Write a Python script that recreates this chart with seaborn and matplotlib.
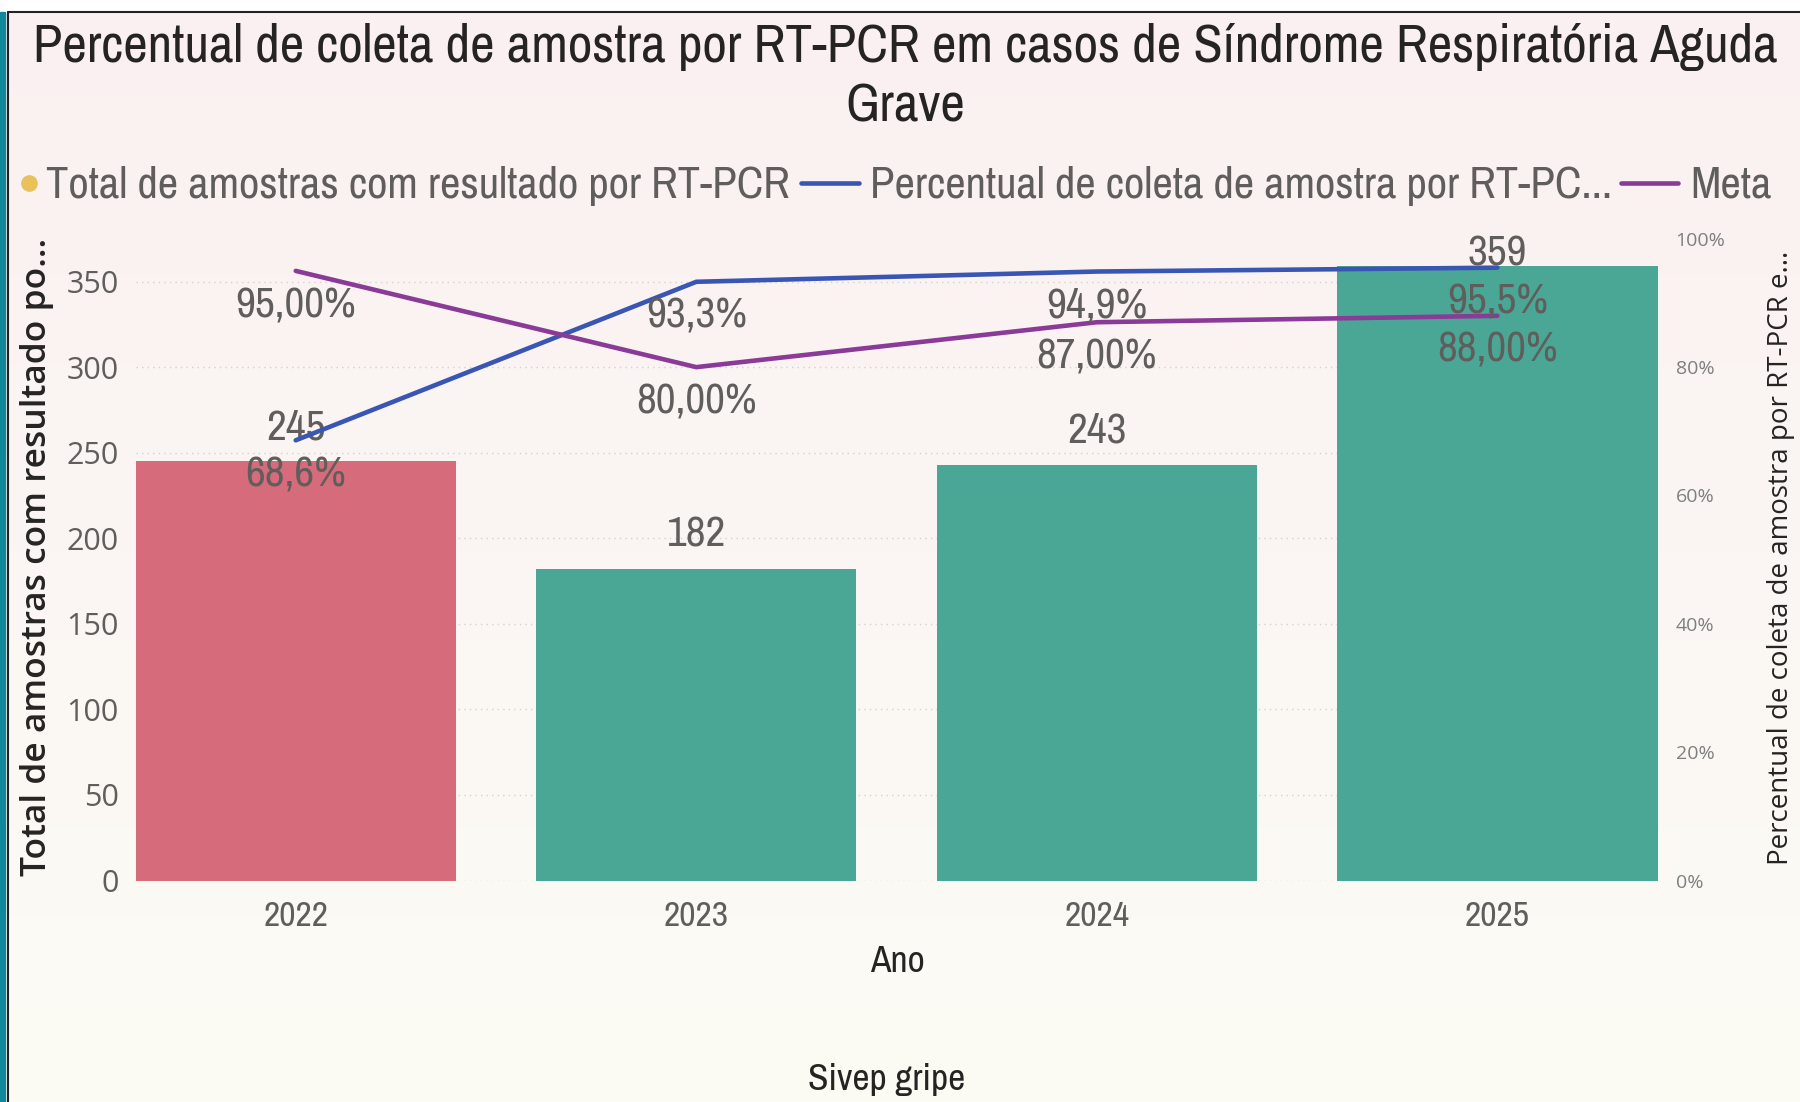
import os
import numpy as np
import pandas as pd
import matplotlib
matplotlib.use("Agg")
import matplotlib.pyplot as plt
import seaborn as sns
from matplotlib import font_manager
from matplotlib.font_manager import FontProperties
from matplotlib.colors import to_rgb
from matplotlib.lines import Line2D
from matplotlib.patches import Rectangle

# ===================== DATA =====================
years = ["2022", "2023", "2024", "2025"]
totals = [245, 182, 243, 359]
pct_coleta = [0.686, 0.933, 0.949, 0.955]
meta = [0.95, 0.80, 0.87, 0.88]
bar_colors = ["#d66b7c", "#4aa795", "#4aa795", "#4aa795"]

title_lines = ["Percentual de coleta de amostra por RT-PCR em casos de Síndrome Respiratória Aguda",
               "Grave"]
legend_labels = ["Total de amostras com resultado por RT-PCR",
                 "Percentual de coleta de amostra por RT-PC...",
                 "Meta"]
left_label = "Total de amostras com resultado po..."
right_label = "Percentual de coleta de amostra por RT-PCR e..."

# ===================== FONTS =====================
sns.set_style("white")
names = {f.name for f in font_manager.fontManager.ttflist}
SEGOE = "Open Sans" if "Open Sans" in names else "DejaVu Sans"
plt.rcParams["font.family"] = [SEGOE, "DejaVu Sans"]

# look for a narrow regular face (Power BI uses a condensed DIN-like font)
BAD = ("bold", "italic", "oblique", "light", "medium", "black", "thin", "semibold", "heavy", "book")
best, best_score = None, 99
for f in font_manager.fontManager.ttflist:
    fn = os.path.basename(f.fname).lower().replace("_", "").replace("-", "")
    if any(b in fn for b in BAD):
        continue
    if "narrow" in fn:
        score = 0
    elif "extracondensed" in fn or "ultracondensed" in fn:
        score = 3
    elif "semicondensed" in fn:
        score = 2
    elif "condensed" in fn:
        score = 1
    else:
        continue
    if score < best_score:
        best, best_score = f.fname, score


def nf(size):
    if best:
        return FontProperties(fname=best, size=size)
    return FontProperties(family="DejaVu Sans", size=size)


W, H = 1800, 1102
TXT = "#605e5c"
DARK = "#252423"
BLUE = "#3a56b4"
PURPLE = "#8a3a97"


def fx(px):
    return px / W


def fy(py):
    return 1 - py / H


fig = plt.figure(figsize=(18, 11.02), dpi=100)
renderer = fig.canvas.get_renderer()


def fit(texts, ref, target):
    # scale font size of texts so that `ref` is `target` px wide
    w = ref.get_window_extent(renderer).width
    s = ref.get_fontsize() * target / w
    for t in texts:
        t.set_fontsize(s)


# background wash
bg = fig.add_axes([0, 0, 1, 1], zorder=-10)
g = np.linspace(0, 1, 256)[:, None, None]
top, bot = np.array(to_rgb("#faf0f1")), np.array(to_rgb("#fcfcf5"))
bg.imshow(top * (1 - g) + bot * g, aspect="auto", extent=[0, 1, 0, 1])
bg.axis("off")

# ===================== BARS =====================
ax = fig.add_axes([fx(135.5), fy(880.5), fx(1657.6 - 135.5), (880.5 - 238.8) / H])
ax.patch.set_alpha(0)
df = pd.DataFrame({"Ano": years, "Total": totals})
sns.barplot(data=df, x="Ano", y="Total", hue="Ano", palette=bar_colors, legend=False,
            width=0.8, saturation=1, linewidth=0, ax=ax)
ax.set_xlim(-0.4, 3.4)
ax.set_ylim(0, 375)
ax.set_yticks(range(0, 351, 50))
ax.yaxis.grid(True, linestyle=(0, (1, 3)), color="#d2d2d2", lw=1)
ax.set_axisbelow(True)
for s in ax.spines.values():
    s.set_visible(False)
ax.set_xlabel("")
ax.set_ylabel("")
ax.tick_params(axis="y", length=0, pad=12, labelsize=22, labelcolor=TXT)
ax.tick_params(axis="x", length=0, pad=14, labelcolor=TXT)
xt = ax.get_xticklabels()
for t in xt:
    t.set_fontproperties(nf(24))
fit(xt, xt[0], 65)

data_texts = []
for i, v in enumerate(totals):
    off = 24.6 if v < 340 else 9
    data_texts.append(ax.annotate(str(v), (i, v), xytext=(0, off), textcoords="offset points",
                                  ha="center", va="center", color=TXT, fontproperties=nf(28)))

# ===================== LINES =====================
ax2 = ax.twinx()
xs = np.arange(len(years))
sns.lineplot(x=xs, y=pct_coleta, color=BLUE, lw=3.3, ax=ax2)
sns.lineplot(x=xs, y=meta, color=PURPLE, lw=3.3, ax=ax2)
ax2.set_xlim(-0.4, 3.4)
ax2.set_ylim(0, 1)
ax2.set_yticks(np.linspace(0, 1, 6))
ax2.set_yticklabels([f"{int(round(v * 100))}%" for v in np.linspace(0, 1, 6)])
ax2.tick_params(axis="y", length=0, pad=13, labelsize=14, labelcolor="#7f7f7f")
for s in ax2.spines.values():
    s.set_visible(False)
ax2.set_ylabel("")

for i, v in enumerate(pct_coleta):
    data_texts.append(ax2.annotate(f"{v * 100:.1f}%".replace(".", ","), (i, v), xytext=(0, -24.6),
                                   textcoords="offset points", ha="center", va="center",
                                   color=TXT, fontproperties=nf(28)))
meta_texts = []
for i, v in enumerate(meta):
    meta_texts.append(ax2.annotate(f"{v * 100:.2f}%".replace(".", ","), (i, v), xytext=(0, -24.6),
                                   textcoords="offset points", ha="center", va="center",
                                   color=TXT, fontproperties=nf(28)))
data_texts += meta_texts
fit(data_texts, meta_texts[0], 120)

# ===================== TEXTS =====================
t1 = fig.text(fx(905), fy(47), title_lines[0], ha="center", va="center",
              color=DARK, fontproperties=nf(33))
t2 = fig.text(fx(905), fy(107), title_lines[1], ha="center", va="center",
              color=DARK, fontproperties=nf(33))
fit([t1, t2], t1, 1745)

fig.text(fx(37), fy(557), left_label, rotation=90, ha="center", va="center",
         fontsize=25.5, color=DARK, fontweight="semibold")
fig.text(fx(1781), fy(558), right_label, rotation=90, ha="center", va="center",
         fontsize=20, color=DARK)
ano = fig.text(fx(897), fy(961), "Ano", ha="center", va="center",
               color=DARK, fontproperties=nf(24))
siv = fig.text(fx(887), fy(1079), "Sivep gripe", ha="center", va="center",
               color=DARK, fontproperties=nf(24))
fit([ano, siv], siv, 157)

# legend
ly = fy(186)
fig.add_artist(Line2D([fx(29)], [fy(183)], marker="o", ms=11, color="#e9c15b",
                      transform=fig.transFigure))
fig.add_artist(Line2D([fx(801), fx(859)], [fy(183), fy(183)], lw=3.3, color=BLUE,
                      transform=fig.transFigure))
fig.add_artist(Line2D([fx(1621), fx(1678)], [fy(183), fy(183)], lw=3.3, color=PURPLE,
                      transform=fig.transFigure))
leg_texts = []
for x0, lab in zip([46, 870, 1690], legend_labels):
    leg_texts.append(fig.text(fx(x0), ly, lab, ha="left", va="center", color=TXT,
                              fontproperties=nf(26)))
fit(leg_texts, leg_texts[0], 744)

# frame
fig.add_artist(Rectangle((0, fy(12)), 1, 12 / H, transform=fig.transFigure,
                         color="white", zorder=5))
fig.add_artist(Rectangle((0, 0), fx(5), fy(12), transform=fig.transFigure,
                         color="#13879a", zorder=5))
fig.add_artist(Line2D([fx(8), fx(8)], [0, fy(12)], lw=1.5, color="#222222",
                      transform=fig.transFigure, zorder=6))
fig.add_artist(Line2D([fx(8), 1], [fy(12), fy(12)], lw=1.5, color="#222222",
                      transform=fig.transFigure, zorder=6))

fig.savefig("out.png", dpi=100)
